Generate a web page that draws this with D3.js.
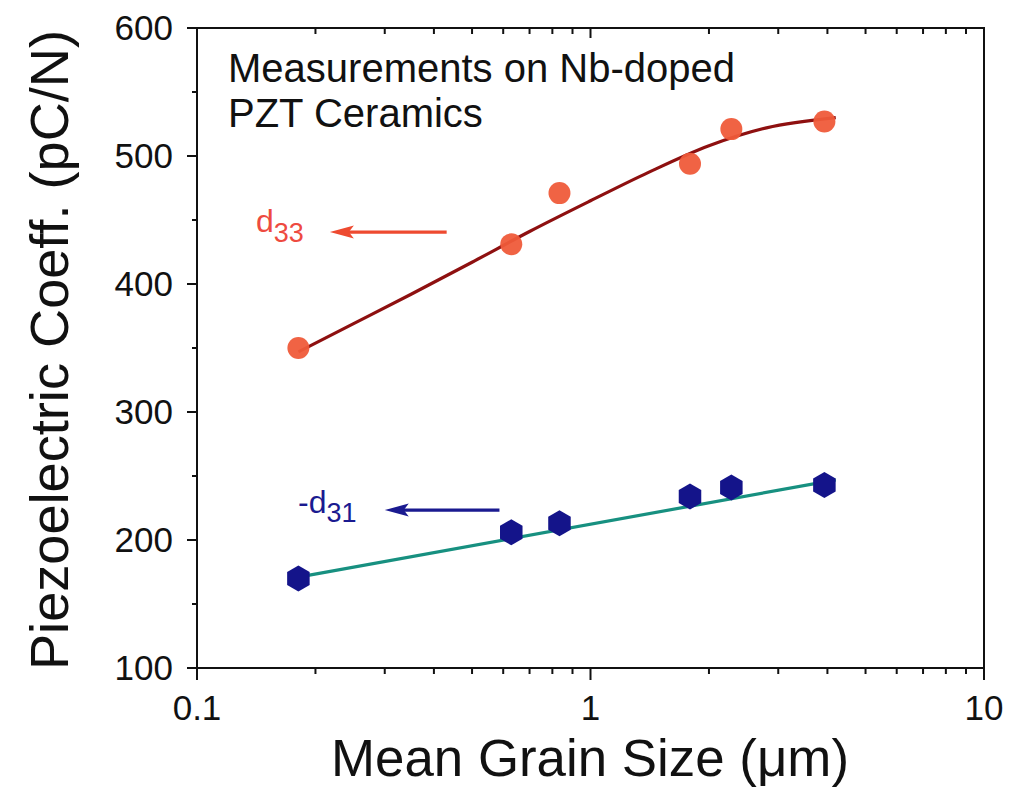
<!DOCTYPE html>
<html>
<head>
<meta charset="utf-8">
<script src="https://cdn.jsdelivr.net/npm/d3@7/dist/d3.min.js"></script>
<style>
  html, body { margin: 0; padding: 0; background: #ffffff; }
  svg { display: block; }
  text { font-family: "Liberation Sans", Arial, Helvetica, sans-serif; fill: #111; }
</style>
</head>
<body>
<svg id="chart" width="1013" height="787"></svg>
<script>
// Mean grain size (µm) of the measured ceramics
const grainSize = [0.181, 0.629, 0.834, 1.79, 2.28, 3.93];
// d33 measurements (pC/N)
const d33Values = [350, 431, 471, 494, 521, 527];
// -d31 measurements (pC/N)
const d31Values = [170, 206, 213, 234, 241, 243];

// Fitted trend through d33 (sigmoidal in log grain size)
const d33FitX = [0.181, 0.25, 0.35, 0.5, 0.7, 1.0, 1.4, 2.0, 2.8, 4.2];
const d33FitY = [347, 369, 392, 417, 441, 465, 487, 508, 522, 530];
// Linear fit through -d31 in log grain size
const d31FitX = [0.181, 4.2];
const d31FitY = [171, 247];

// Axis ticks
const xMajorTicks = [0.1, 1, 10];
const xTickLabels = ["0.1", "1", "10"];
const yMajorTicks = [100, 200, 300, 400, 500, 600];
const yMinorTicks = [150, 250, 350, 450, 550];

// Annotation text
const noteLines = ["Measurements on Nb-doped", "PZT Ceramics"];
const xTitle = "Mean Grain Size (\u03bcm)";
const yTitle = "Piezoelectric Coeff. (pC/N)";

(function () {
const svg = d3.select("#chart");
const W = 1013, H = 787;
const margin = { left: 197, right: W - 984, top: 28, bottom: H - 668 };

const x = d3.scaleLog().domain([0.1, 10]).range([margin.left, W - margin.right]);
const y = d3.scaleLinear().domain([100, 600]).range([H - margin.bottom, margin.top]);

const xMinorTicks = [];
[0.1, 1].forEach(dec => { for (let k = 2; k <= 9; k++) xMinorTicks.push(+(dec * k).toFixed(3)); });

const axisColor = "#111";
const x0 = x.range()[0], x1 = x.range()[1];
const yB = y.range()[0], yT = y.range()[1];

// Frame
const frame = svg.append("g");
frame.append("line").attr("x1", x0).attr("x2", x1).attr("y1", yB).attr("y2", yB);
frame.append("line").attr("x1", x0).attr("x2", x1).attr("y1", yT).attr("y2", yT);
frame.append("line").attr("x1", x0).attr("x2", x0).attr("y1", yT).attr("y2", yB);
frame.append("line").attr("x1", x1).attr("x2", x1).attr("y1", yT).attr("y2", yB);
frame.selectAll("line").attr("stroke", axisColor).attr("stroke-width", 2).attr("stroke-linecap", "square");

// Bottom axis ticks (outward)
const gBottom = svg.append("g").attr("stroke", axisColor).attr("stroke-width", 2);
gBottom.selectAll(".maj").data(xMajorTicks).join("line").attr("class", "maj")
  .attr("x1", d => x(d)).attr("x2", d => x(d)).attr("y1", yB).attr("y2", yB + 12);
gBottom.selectAll(".min").data(xMinorTicks).join("line").attr("class", "min")
  .attr("x1", d => x(d)).attr("x2", d => x(d)).attr("y1", yB).attr("y2", yB + 6);

// Top axis ticks (inward)
const gTop = svg.append("g").attr("stroke", axisColor).attr("stroke-width", 2);
gTop.selectAll(".maj").data(xMajorTicks.slice(1, 2)).join("line").attr("class", "maj")
  .attr("x1", d => x(d)).attr("x2", d => x(d)).attr("y1", yT).attr("y2", yT + 10);
gTop.selectAll(".min").data(xMinorTicks).join("line").attr("class", "min")
  .attr("x1", d => x(d)).attr("x2", d => x(d)).attr("y1", yT).attr("y2", yT + 6);

// Left axis ticks (outward)
const gLeft = svg.append("g").attr("stroke", axisColor).attr("stroke-width", 2);
gLeft.selectAll(".maj").data(yMajorTicks).join("line").attr("class", "maj")
  .attr("x1", x0 - 10).attr("x2", x0).attr("y1", d => y(d)).attr("y2", d => y(d));
gLeft.selectAll(".min").data(yMinorTicks).join("line").attr("class", "min")
  .attr("x1", x0 - 5).attr("x2", x0).attr("y1", d => y(d)).attr("y2", d => y(d));

// Tick labels
svg.append("g").selectAll("text").data(yMajorTicks).join("text")
  .attr("x", x0 - 24).attr("y", d => y(d) + 12)
  .attr("text-anchor", "end").attr("font-size", 35)
  .text(d => d);
svg.append("g").selectAll("text").data(xMajorTicks).join("text")
  .attr("x", d => x(d)).attr("y", yB + 52)
  .attr("text-anchor", "middle").attr("font-size", 35)
  .text((d, i) => xTickLabels[i]);

// Axis titles
svg.append("text")
  .attr("x", 590).attr("y", 776)
  .attr("text-anchor", "middle").attr("font-size", 51)
  .attr("textLength", 518).attr("lengthAdjust", "spacingAndGlyphs")
  .text(xTitle);
svg.append("text")
  .attr("transform", "translate(68,350) rotate(-90)")
  .attr("text-anchor", "middle").attr("font-size", 54)
  .attr("textLength", 640).attr("lengthAdjust", "spacingAndGlyphs")
  .text(yTitle);

// Note in the upper-left corner
svg.append("g").selectAll("text").data(noteLines).join("text")
  .attr("x", 228).attr("y", (d, i) => 82 + i * 45)
  .attr("font-size", 40)
  .text(d => d);

// Fit curves
const line = d3.line().x(d => x(d[0])).y(d => y(d[1])).curve(d3.curveMonotoneX);
svg.append("path")
  .datum(d33FitX.map((v, i) => [v, d33FitY[i]]))
  .attr("d", line).attr("fill", "none")
  .attr("stroke", "#8e1010").attr("stroke-width", 3.2);
svg.append("path")
  .datum(d31FitX.map((v, i) => [v, d31FitY[i]]))
  .attr("d", line).attr("fill", "none")
  .attr("stroke", "#179080").attr("stroke-width", 3.2);

// d33 points
svg.append("g").selectAll("circle").data(grainSize).join("circle")
  .attr("cx", d => x(d)).attr("cy", (d, i) => y(d33Values[i]))
  .attr("r", 11).attr("fill", "#ef5b3a").attr("fill-opacity", 0.95);

// -d31 points (hexagons)
const hex = d3.range(6).map(k => {
  const a = Math.PI / 2 + k * Math.PI / 3;
  return [13 * Math.cos(a), 13 * Math.sin(a)];
});
svg.append("g").selectAll("polygon").data(grainSize).join("polygon")
  .attr("transform", (d, i) => `translate(${x(d)},${y(d31Values[i])})`)
  .attr("points", hex.map(p => p.join(",")).join(" "))
  .attr("fill", "#14148a");

// Series labels with arrows
function arrow(xFrom, xTo, yVal, color) {
  const yy = y(yVal);
  const tip = x(xTo);
  svg.append("line")
    .attr("x1", x(xFrom)).attr("x2", tip + 10).attr("y1", yy).attr("y2", yy)
    .attr("stroke", color).attr("stroke-width", 3.2);
  svg.append("path")
    .attr("d", `M${tip},${yy} L${tip + 24},${yy - 6.5} L${tip + 19},${yy} L${tip + 24},${yy + 6.5} Z`)
    .attr("fill", color);
}
arrow(0.431, 0.2176, 440.6, "#ee4a30");
arrow(0.587, 0.300, 223.4, "#1a1a90");

const d33Label = svg.append("text").attr("x", 256).attr("y", 232)
  .attr("font-size", 32).style("fill", "#ee4a40");
d33Label.append("tspan").text("d");
d33Label.append("tspan").attr("dy", 10).attr("font-size", 27).text("33");

const d31Label = svg.append("text").attr("x", 298).attr("y", 513)
  .attr("font-size", 32).style("fill", "#1a1a90");
d31Label.append("tspan").text("-d");
d31Label.append("tspan").attr("dy", 9).attr("font-size", 27).text("31");
})();
</script>
</body>
</html>
